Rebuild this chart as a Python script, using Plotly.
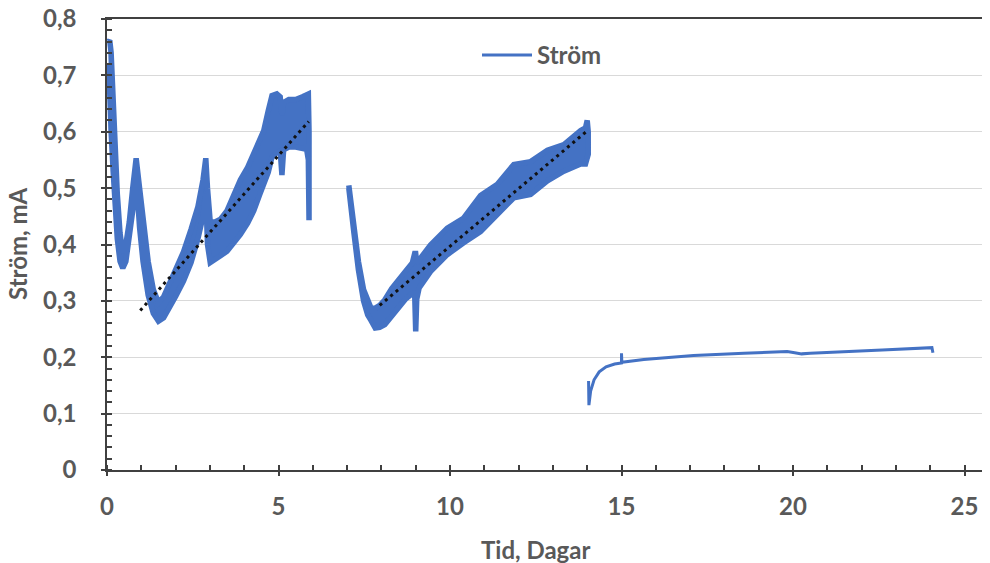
import plotly.graph_objects as go

# ---- data ----
seg1_x = [0.05, 0.08, 0.12, 0.18, 0.24, 0.30, 0.38, 0.46, 0.55, 0.65, 0.75, 0.85, 0.95, 1.05, 1.20,
          1.35, 1.50, 1.65, 1.80, 2.00, 2.23, 2.45, 2.65, 2.80, 2.88, 2.93, 3.01, 3.15, 3.31, 3.50,
          3.70, 3.89, 4.10, 4.28, 4.45, 4.57, 4.70, 4.81, 4.95, 5.05, 5.10, 5.15, 5.30, 5.50, 5.70,
          5.82, 5.87, 5.89]
seg1_upper = [0.76, 0.762, 0.74, 0.64, 0.56, 0.49, 0.42, 0.385, 0.40, 0.44, 0.50, 0.553, 0.50, 0.44, 0.37,
              0.32, 0.297, 0.307, 0.327, 0.352, 0.387, 0.427, 0.467, 0.515, 0.553, 0.50, 0.44, 0.44, 0.445, 0.46,
              0.49, 0.515, 0.537, 0.56, 0.582, 0.602, 0.637, 0.664, 0.667, 0.662, 0.63, 0.652, 0.657, 0.657, 0.662,
              0.665, 0.667, 0.60]
seg1_lower = [0.72, 0.66, 0.60, 0.53, 0.46, 0.41, 0.37, 0.358, 0.37, 0.41, 0.46, 0.52, 0.43, 0.37, 0.31,
              0.278, 0.264, 0.27, 0.286, 0.308, 0.335, 0.368, 0.41, 0.45, 0.49, 0.40, 0.368, 0.372, 0.38, 0.388,
              0.402, 0.418, 0.438, 0.46, 0.488, 0.503, 0.528, 0.555, 0.563, 0.566, 0.523, 0.568, 0.573, 0.573, 0.571,
              0.569, 0.55, 0.443]

seg2_x = [7.05, 7.12, 7.20, 7.33, 7.48, 7.60, 7.70, 7.82, 7.95, 8.10, 8.30, 8.50, 8.70, 8.90, 8.97,
          9.00, 9.03, 9.10, 9.43, 9.92, 10.40, 10.89, 11.38, 11.86, 12.35, 12.84, 13.32, 13.81, 13.95,
          14.00, 14.03]
seg2_upper = [0.505, 0.47, 0.435, 0.37, 0.32, 0.30, 0.287, 0.287, 0.292, 0.302, 0.322, 0.337, 0.352, 0.367, 0.384,
              0.384, 0.367, 0.372, 0.399, 0.429, 0.447, 0.487, 0.507, 0.542, 0.547, 0.567, 0.577, 0.602, 0.607,
              0.62, 0.60]
seg2_lower = [0.50, 0.455, 0.42, 0.355, 0.30, 0.275, 0.265, 0.252, 0.253, 0.258, 0.273, 0.288, 0.303, 0.313, 0.313,
              0.246, 0.303, 0.323, 0.352, 0.382, 0.403, 0.423, 0.453, 0.483, 0.489, 0.513, 0.53, 0.543, 0.543,
              0.548, 0.56]

seg3_x = [14.04, 14.05, 14.10, 14.20, 14.35, 14.55, 14.80, 15.00, 15.00, 15.01, 15.65, 16.50, 17.10,
          18.57, 19.83, 20.05, 20.25, 20.50, 21.10, 22.60, 24.05, 24.08]
seg3_y = [0.158, 0.115, 0.140, 0.160, 0.174, 0.183, 0.188, 0.190, 0.207, 0.191, 0.196, 0.200, 0.203,
          0.207, 0.210, 0.208, 0.206, 0.207, 0.209, 0.213, 0.217, 0.208]

trend1_x = [0.97, 5.88]
trend1_y = [0.283, 0.618]
trend2_x = [7.95, 13.97]
trend2_y = [0.292, 0.600]

x_tickvals = [0, 5, 10, 15, 20, 25]
x_ticktext = ["0", "5", "10", "15", "20", "25"]
y_tickvals = [0, 0.1, 0.2, 0.3, 0.4, 0.5, 0.6, 0.7, 0.8]
y_ticktext = ["0", "0,1", "0,2", "0,3", "0,4", "0,5", "0,6", "0,7", "0,8"]

BLUE = "#4472C4"
TXT = "#595959"
AX = "#404040"
FONT = "Lato"
FS = 24

# the page body adds an 8px offset; work in reference pixels and subtract it
OFF = 8
W, H = 990 - OFF, 563 - OFF
ML, MT = 107 - OFF, 19 - OFF
MR = 0
MB = H - (470 - OFF)
plot_w = W - ML - MR
plot_h = H - MT - MB

fig = go.Figure()


def band(xs, up, lo):
    return xs + xs[::-1], up + lo[::-1]


for xs, up, lo in [(seg1_x, seg1_upper, seg1_lower), (seg2_x, seg2_upper, seg2_lower)]:
    bx, by = band(xs, up, lo)
    fig.add_trace(go.Scatter(x=bx, y=by, mode="lines", fill="toself", fillcolor=BLUE,
                             line=dict(color=BLUE, width=5.5), showlegend=False,
                             legendgroup="s", hoverinfo="skip"))

fig.add_trace(go.Scatter(x=seg3_x, y=seg3_y, mode="lines", name="Ström",
                         line=dict(color=BLUE, width=3), legendgroup="s"))

for tx, ty in [(trend1_x, trend1_y), (trend2_x, trend2_y)]:
    fig.add_trace(go.Scatter(x=tx, y=ty, mode="lines", showlegend=False,
                             line=dict(color="#111111", width=3, dash="3px,4px")))

fig.update_layout(
    width=W, height=H,
    margin=dict(l=ML, r=MR, t=MT, b=MB, autoexpand=False),
    paper_bgcolor="white", plot_bgcolor="white",
    font=dict(family=FONT, color=TXT, size=FS),
    legend=dict(x=(477 - 107) / plot_w, y=(470 - 33) / plot_h, xanchor="left", yanchor="top",
                itemwidth=50,
                font=dict(family=FONT, size=FS, color=TXT, weight="bold"),
                bgcolor="rgba(0,0,0,0)"),
    xaxis=dict(range=[0, (990 - 107) / 34.3], tickvals=x_tickvals, ticktext=x_ticktext, automargin=False,
               showgrid=False, zeroline=False, showline=True, linecolor=AX, linewidth=1.5,
               mirror=True, ticklabeloverflow="allow",
               ticks="outside", ticklen=4, tickwidth=1.5, tickcolor=AX,
               minor=dict(dtick=1, ticks="inside", ticklen=5, tickwidth=1.5, tickcolor=AX, showgrid=False),
               tickfont=dict(family=FONT, size=FS, color=TXT, weight="bold"),
               ticklabelstandoff=10),
    yaxis=dict(range=[0, 0.8], tickvals=y_tickvals, ticktext=y_ticktext, automargin=False,
               showgrid=True, gridcolor="#D9D9D9", gridwidth=1, zeroline=False,
               showline=True, linecolor=AX, linewidth=1.5, ticklabeloverflow="allow",
               ticks="outside", ticklen=4, tickwidth=1.5, tickcolor=AX,
               minor=dict(dtick=0.02, ticks="inside", ticklen=5, tickwidth=1.5, tickcolor=AX, showgrid=False),
               tickfont=dict(family=FONT, size=FS, color=TXT, weight="bold"),
               ticklabelstandoff=20),
)
fig.add_annotation(text="Tid, Dagar", xref="paper", yref="paper",
                   x=(535 - 107) / plot_w, y=-(549 - 470) / plot_h,
                   showarrow=False, xanchor="center", yanchor="middle",
                   font=dict(family=FONT, size=FS, color=TXT, weight="bold"))
fig.add_annotation(text="Ström, mA", xref="paper", yref="paper",
                   x=-(107 - 17) / plot_w, y=(470 - 244) / plot_h, textangle=-90,
                   showarrow=False, xanchor="center", yanchor="middle",
                   font=dict(family=FONT, size=FS, color=TXT, weight="bold"))

fig.write_html("out.html")
